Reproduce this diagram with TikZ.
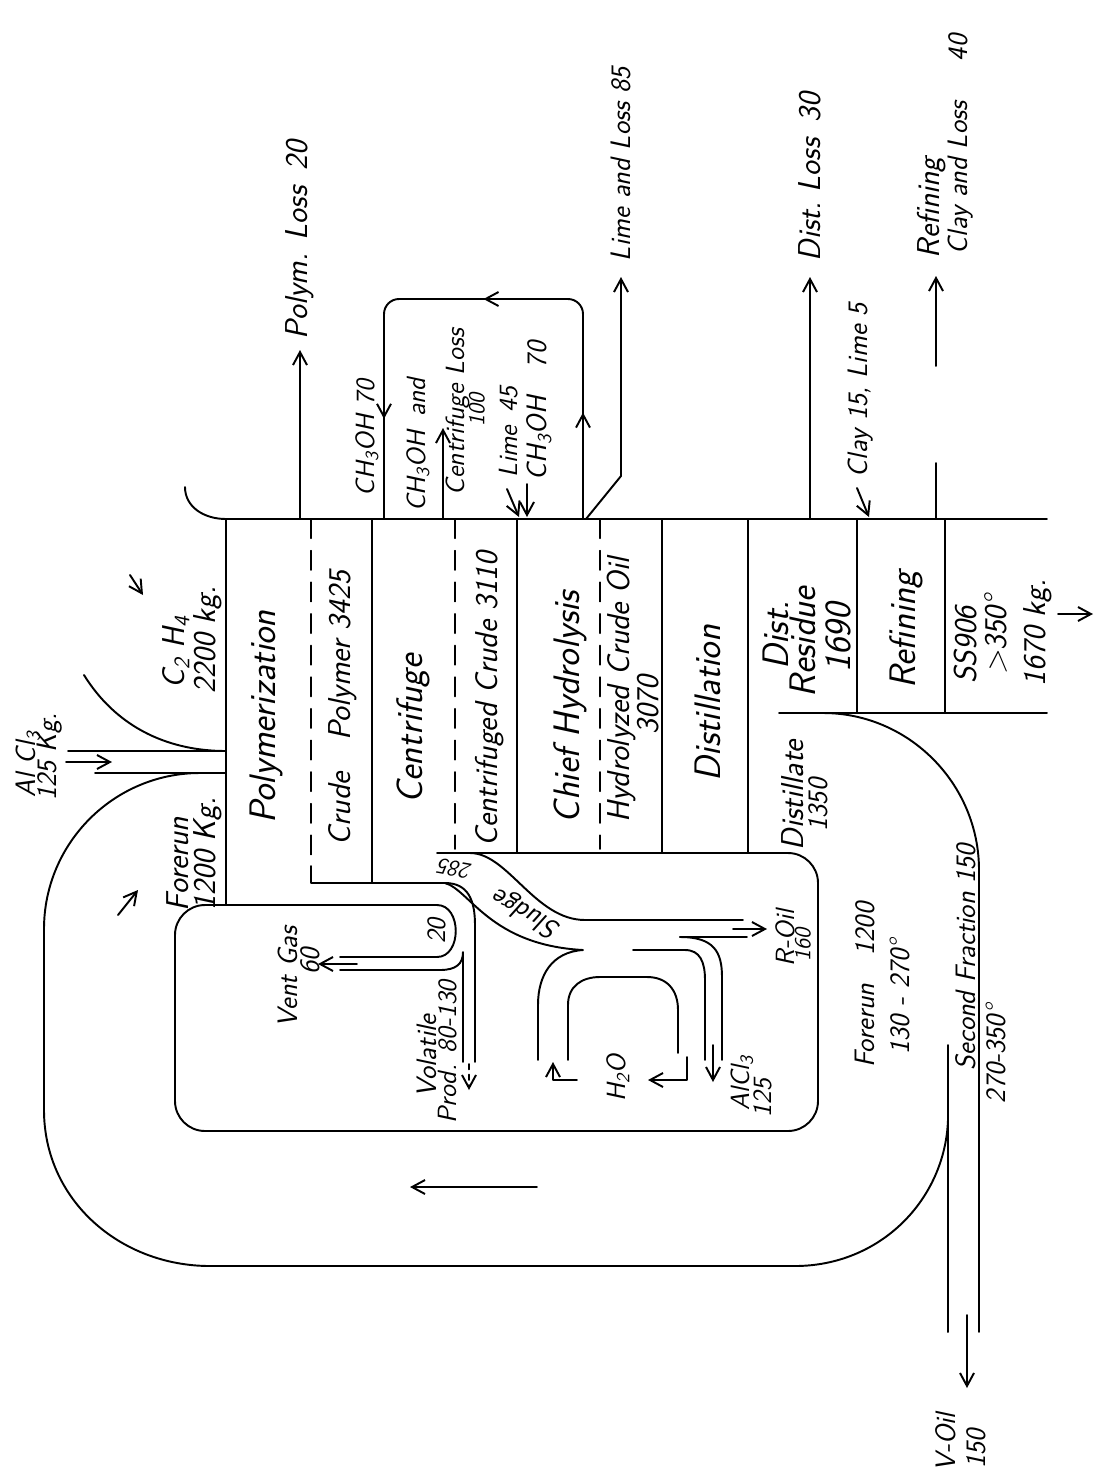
\documentclass[tikz,border=0pt]{standalone}
\usepackage{tikz}
\usetikzlibrary{arrows.meta,decorations.markings}

\begin{document}
\begin{tikzpicture}[
  x=0.02cm, y=-0.02cm,
  line width=1.1pt, line cap=round, line join=round,
  >={Straight Barb[length=2.6mm,width=2.8mm]},
  hand/.style={inner sep=0pt, font=\sffamily\slshape\fontsize{16}{18}\selectfont},
  lbl/.style={hand, rotate=90},
  tinylbl/.style={lbl, font=\sffamily\slshape\fontsize{13}{15}\selectfont},
  smalllbl/.style={lbl, font=\sffamily\slshape\fontsize{15}{17}\selectfont},
  medlbl/.style={lbl, font=\sffamily\slshape\fontsize{18}{20}\selectfont},
  biglbl/.style={lbl, font=\sffamily\slshape\fontsize{21}{24}\selectfont},
  colline/.style={line width=0.9pt},
  divider/.style={line width=0.9pt, dash pattern=on 11pt off 7pt},
  flow/.style={->},
  loopflow/.style={postaction={decorate}, decoration={markings,
    mark=at position 0.17 with {\arrow{>}},
    mark=at position 0.50 with {\arrow{>}},
    mark=at position 0.84 with {\arrow{>}}}}
]
\useasboundingbox (0,0) rectangle (1099,1475);

% ---------- main stream and process columns ----------
\draw (185,487) .. controls (185,507) and (204,519) .. (226,519) -- (1047,519);
\draw[colline] (226,519) -- (226,905);
\draw[divider] (311,519) -- (311,866);
\draw[colline] (311,866) -- (311,883) -- (445,883);
\draw[colline] (372,519) -- (372,883);
\draw[divider] (455,519) -- (455,849);
\draw[colline] (517,519) -- (517,853);
\draw[divider] (600,519) -- (600,849);
\draw[colline] (662,519) -- (662,853);
\draw[colline] (748,519) -- (748,853);
\draw[colline] (857,519) -- (857,713);
\draw[colline] (945,519) -- (945,713);
\draw (779,713) -- (1047,713);
\draw[flow] (1058,614) -- (1093,614);

\node[biglbl] (polym)  at (266,717) {Polymerization};
\node[medlbl] (crude)  at (343,708) {Crude\quad Polymer 3425};
\node[biglbl] (centr)  at (413,729) {Centrifuge};
\node[medlbl] (ccrude) at (490,699) {Centrifuged Crude 3110};
\node[biglbl] (hydro)  at (570,707) {Chief Hydrolysis};
\node[medlbl] (hcrude) at (621,690) {Hydrolyzed Crude Oil};
\node[medlbl] (hcnum)  at (648,705) {3070};
\node[biglbl] (dist)   at (708,703) {Distillation};
\node[biglbl] (dres1)  at (776,635) {Dist.};
\node[biglbl] (dres2)  at (803,642) {Residue};
\node[biglbl] (dres3)  at (838,638) {1690};
\node[medlbl] (dlate)  at (793,795) {Distillate};
\node[lbl]    (dlnum)  at (818,805) {1350};
\node[biglbl] (refin)  at (906,630) {Refining};
\node[medlbl] (ss1)    at (966,645) {SS906};
\node[medlbl] (ss2)    at (996,635) {\textgreater350\textdegree};
\node[medlbl] (ss3)    at (1038,633) {1670 kg.};

% ---------- losses and additions on top ----------
\draw[flow] (300,519) -- (300,350);
\draw[loopflow, rounded corners=0.3cm] (583,519) -- (583,299) -- (384,299) -- (384,519);
\draw[flow] (443,519) -- (443,428);
\draw[flow] (507,489) -- (519,517);
\draw[flow] (527,484) -- (527,517);
\draw[flow] (586,519) -- (621,476) -- (621,277);
\draw[flow] (810,519) -- (810,277);
\draw[flow] (857,488) -- (869,517);
\draw (936,519) -- (936,463);
\draw[flow] (936,366) -- (936,276);

\node[medlbl, anchor=west] (ploss) at (300,340) {Polym. Loss\enspace 20};
\node[smalllbl] (meth1) at (367,438) {CH\textsubscript{3}OH 70};
\node[smalllbl] (meth2) at (418,445) {CH\textsubscript{3}OH\enspace and};
\node[smalllbl] (closs) at (458,412) {Centrifuge Loss};
\node[tinylbl]  (clnum) at (477,410) {100};
\node[smalllbl] (lime1) at (509,432) {Lime\enspace 45};
\node[lbl]      (meth3) at (539,411) {CH\textsubscript{3}OH\quad 70};
\node[lbl, anchor=west] (lloss) at (621,262) {Lime and Loss 85};
\node[medlbl, anchor=west] (dloss) at (810,262) {Dist.\ Loss\enspace 30};
\node[lbl, anchor=west] (clay) at (861,478) {Clay 15, Lime 5};
\node[medlbl, anchor=west] (rloss1) at (932,259) {Refining};
\node[lbl, anchor=west] (rloss2) at (961,255) {Clay and Loss\hspace{23pt}40};

% ---------- feeds ----------
\draw (84,675) .. controls (115,725) and (165,751) .. (226,751);
\draw (68,751) -- (226,751);
\draw (95,773) -- (226,773);
\draw[flow] (66,762) -- (112,762);
\draw[flow] (130,575) -- (143,595);

\node[lbl]    (alcl)  at (28,764)  {Al Cl\textsubscript{3}};
\node[lbl]    (alkg)  at (50,757)  {125 Kg.};
\node[medlbl] (eth)   at (176,652) {C\textsubscript{2} H\textsubscript{4}};
\node[medlbl] (ethkg) at (208,640) {2200 kg.};
\node[medlbl] (fore)  at (178,864) {Forerun};
\node[medlbl] (forkg) at (208,854) {1200 Kg.};

% ---------- forerun recycle and second fraction ----------
\draw (948,1120) .. controls (945,1200) and (880,1266) .. (795,1266) -- (210,1266)
      .. controls (120,1266) and (44,1200) .. (44,1110) -- (44,929)
      .. controls (44,843) and (114,773) .. (200,773);
\draw (823,713) .. controls (909,713) and (979,784) .. (979,870) -- (979,1332);
\draw (948,1045) -- (948,1332);
\draw[flow] (967,1315) -- (967,1388);
\draw[flow] (118,915) -- (138,890);
\draw[flow] (537,1187) -- (410,1187);

\node[lbl] (fr1)  at (865,985)  {Forerun\quad 1200};
\node[lbl] (fr2)  at (900,997)  {130 - 270\textdegree};
\node[lbl] (sf1)  at (966,957)  {Second Fraction 150};
\node[lbl] (sf2)  at (996,1054) {270-350\textdegree};
\node[lbl] (voil) at (946,1442) {V-Oil};
\node[lbl] (vnum) at (976,1449) {150};

% ---------- by-product box ----------
\draw[rounded corners=0.6cm] (437,905) -- (175,905) -- (175,1131) -- (818,1131) -- (818,853) -- (437,853);

% vent gas and volatile products
\draw (437,905) .. controls (462,905) and (462,957) .. (437,957) -- (340,957);
\draw (340,970) -- (440,970) .. controls (456,970) and (463,964) .. (463,952) -- (463,1062);
\draw[flow] (357,964) -- (318,964);
\draw (445,883) .. controls (468,883) and (475,900) .. (475,925) -- (475,1062);
\draw[flow, dashed] (469,1064) -- (469,1090);

% sludge, R-oil, AlCl3 and water
\draw (470,853) .. controls (508,853) and (535,920) .. (585,920) -- (743,920);
\draw (445,883) .. controls (470,890) and (490,945) .. (583,950)
      .. controls (552,952) and (538,975) .. (538,1005) -- (538,1060);
\draw (680,937) -- (747,937);
\draw (680,937) .. controls (714,937) and (722,952) .. (722,977) -- (722,1060);
\draw[flow] (733,929) -- (767,929);
\draw (633,950) -- (685,950) .. controls (700,950) and (705,962) .. (705,980) -- (705,1060);
\draw[flow] (713,1045) -- (713,1082);
\draw (568,1060) -- (568,1005) .. controls (568,986) and (582,977) .. (600,977) -- (647,977)
      .. controls (667,977) and (678,990) .. (678,1010) -- (678,1053);
\draw[flow] (577,1080) -- (553,1080) -- (553,1062);
\draw[flow] (687,1057) -- (687,1080) -- (648,1080);

\node[lbl]      (vent)  at (288,977)  {Vent Gas};
\node[lbl]      (vnum2) at (310,961)  {60};
\node[smalllbl] (u20)   at (437,931)  {20};
\node[lbl]      (vol1)  at (427,1056) {Volatile};
\node[smalllbl] (vol2)  at (448,1052) {Prod. 80-130};
\node[hand, rotate=150] (sludge) at (527,913) {Sludge};
\node[hand, font=\sffamily\slshape\fontsize{13}{15}\selectfont, rotate=170] (snum) at (455,869) {285};
\node[smalllbl] (roil)  at (785,938)  {R-Oil};
\node[tinylbl]  (rnum)  at (803,945)  {160};
\node[smalllbl] (alc2)  at (742,1083) {AlCl\textsubscript{3}};
\node[smalllbl] (anum)  at (763,1098) {125};
\node[smalllbl] (water) at (618,1078) {H\textsubscript{2}O};

\end{tikzpicture}
\end{document}
